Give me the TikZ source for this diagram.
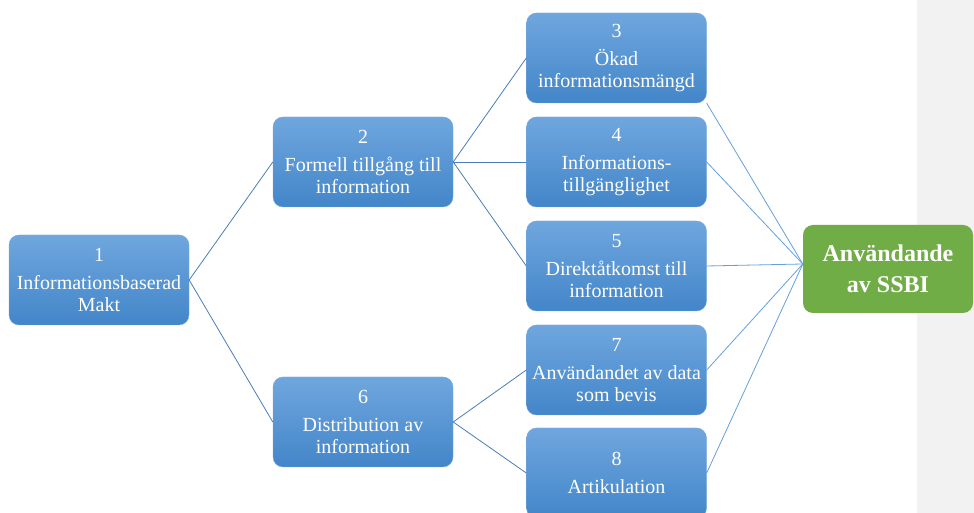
\documentclass[tikz,border=0pt]{standalone}
\usepackage{fontspec}
\setmainfont{Liberation Serif}
\definecolor{boxtop}{RGB}{112,166,222}
\definecolor{boxbot}{RGB}{66,134,201}
\definecolor{boxedge}{RGB}{120,170,222}
\definecolor{ssbigreen}{RGB}{112,173,71}
\definecolor{panelgray}{RGB}{242,242,242}
\definecolor{darkln}{RGB}{74,126,187}
\definecolor{lightln}{RGB}{100,160,220}
\begin{document}
\begin{tikzpicture}[x=1pt,y=1pt,
  bluebox/.style={rounded corners=10pt, minimum width=180pt, minimum height=90pt,
    top color=boxtop, bottom color=boxbot,
    draw=boxedge, line width=0.4pt,
    text=white, align=center, inner sep=2pt, font=\fontsize{20}{22}\selectfont},
  greenbox/.style={rounded corners=10pt, minimum width=170pt, minimum height=88pt,
    fill=ssbigreen, text=white, align=center,
    font=\fontsize{24}{31}\selectfont\bfseries},
  darkline/.style={draw=darkln, line width=0.8pt},
  lightline/.style={draw=lightln, line width=0.8pt}
]
\clip (0,0) rectangle (974,513);
\fill[white] (0,0) rectangle (974,513);
\fill[panelgray] (917,0) rectangle (974,513);

\node[bluebox] (b1) at (99,233) {1\\[6pt]Informationsbaserad\\Makt};
\node[bluebox] (b2) at (363,351) {2\\[6pt]Formell tillgång till\\information};
\node[bluebox] (b6) at (363,91) {6\\[6pt]Distribution av\\information};
\node[bluebox] (b3) at (616.5,455) {3\\[6pt]Ökad\\informationsmängd};
\node[bluebox] (b4) at (616.5,351) {4\\[6pt]Informations-\\tillgänglighet};
\node[bluebox] (b5) at (616.5,247) {5\\[6pt]Direktåtkomst till\\information};
\node[bluebox] (b7) at (616.5,143) {7\\[6pt]Användandet av data\\som bevis};
\node[bluebox] (b8) at (616.5,40) {8\\[6pt]Artikulation};
\node[greenbox] (g) at (888,244) {Användande\\av SSBI};
\coordinate (gin) at ([yshift=5pt]g.west);

\draw[darkline] (b1.east) -- (b2.west);
\draw[darkline] (b1.east) -- (b6.west);
\draw[darkline] (b2.east) -- (b3.west);
\draw[darkline] (b2.east) -- (b4.west);
\draw[darkline] (b2.east) -- (b5.west);
\draw[darkline] (b6.east) -- (b7.west);
\draw[darkline] (b6.east) -- (b8.west);
\draw[lightline] (b3.south east) -- (gin);
\draw[lightline] (b4.east) -- (gin);
\draw[lightline] (b5.east) -- (gin);
\draw[lightline] (b7.east) -- (gin);
\draw[lightline] (b8.east) -- (gin);
\end{tikzpicture}
\end{document}
